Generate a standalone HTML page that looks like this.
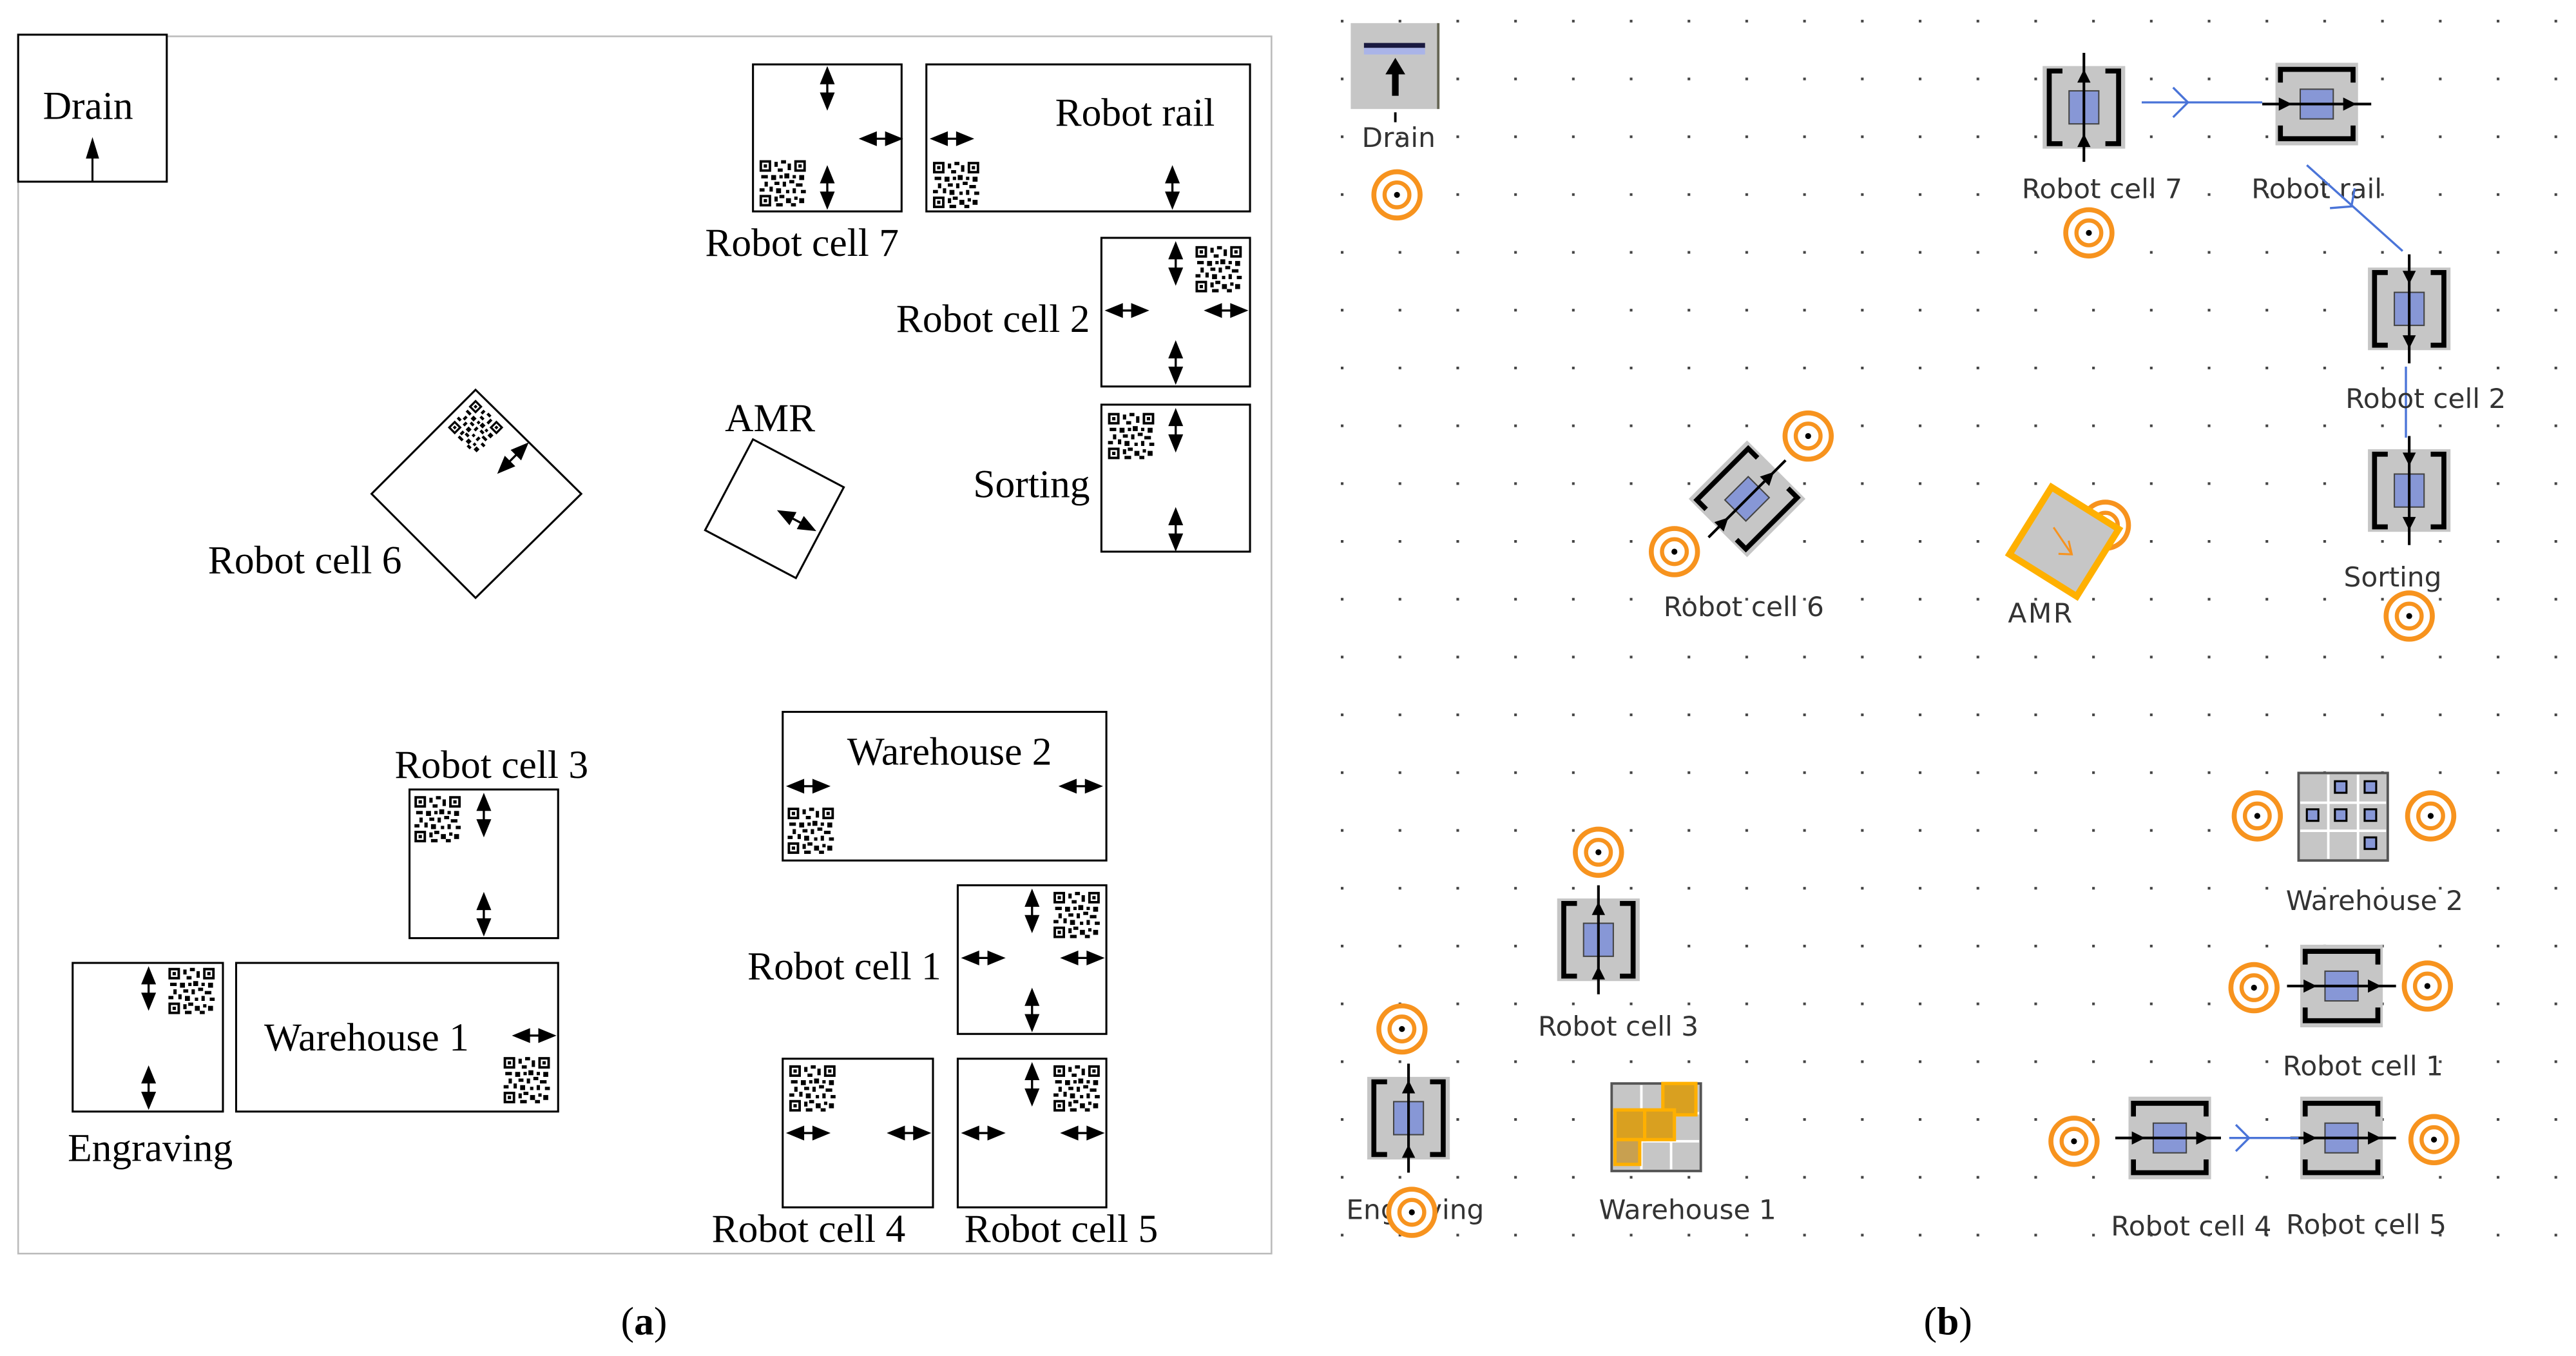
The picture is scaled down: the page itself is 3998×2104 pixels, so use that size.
<!DOCTYPE html>
<html><head><meta charset="utf-8"><style>
html,body{margin:0;padding:0;background:#fff;}
svg{display:block;}
.s{font-family:"Liberation Serif",serif;font-size:24px;fill:#000;}
.b{font-family:"DejaVu Sans","Liberation Sans",sans-serif;font-size:16.5px;fill:#333;text-anchor:middle;}
</style></head><body>
<svg width="3998" height="2104" viewBox="0 0 1560 821" preserveAspectRatio="none" xmlns="http://www.w3.org/2000/svg">
<defs>
<g id="dv"><line x1="0" y1="2" x2="0" y2="25" stroke="#000" stroke-width="1.3"/><polygon points="0,0 -4.5,11 4.5,11" fill="#000"/><polygon points="0,27 -4.5,16 4.5,16" fill="#000"/></g>
<g id="dh"><use href="#dv" transform="rotate(-90)"/></g>
<g id="qr" fill="#000">
<rect x="0" y="0" width="7" height="7"/><rect x="1.5" y="1.5" width="4" height="4" fill="#fff"/><rect x="2.5" y="2.5" width="2" height="2"/>
<rect x="21" y="0" width="7" height="7"/><rect x="22.5" y="1.5" width="4" height="4" fill="#fff"/><rect x="23.5" y="2.5" width="2" height="2"/>
<rect x="0" y="21" width="7" height="7"/><rect x="1.5" y="22.5" width="4" height="4" fill="#fff"/><rect x="2.5" y="23.5" width="2" height="2"/>
<rect x="9" y="1" width="2" height="3"/><rect x="13" y="0" width="3" height="2"/><rect x="17" y="2" width="2" height="4"/><rect x="11" y="5" width="3" height="2"/>
<rect x="1" y="9" width="4" height="2"/><rect x="7" y="9" width="3" height="3"/><rect x="12" y="9" width="2" height="2"/><rect x="15" y="8" width="3" height="3"/><rect x="20" y="9" width="2" height="2"/><rect x="24" y="9" width="3" height="3"/>
<rect x="3" y="13" width="2" height="3"/><rect x="9" y="13" width="3" height="2"/><rect x="14" y="13" width="2" height="3"/><rect x="18" y="12" width="3" height="2"/><rect x="22" y="14" width="4" height="2"/>
<rect x="0" y="17" width="3" height="2"/><rect x="6" y="16" width="2" height="3"/><rect x="10" y="17" width="3" height="3"/><rect x="16" y="18" width="2" height="2"/><rect x="20" y="17" width="2" height="3"/><rect x="25" y="18" width="3" height="2"/>
<rect x="9" y="22" width="2" height="3"/><rect x="12" y="21" width="3" height="2"/><rect x="16" y="23" width="3" height="3"/><rect x="21" y="22" width="2" height="2"/><rect x="24" y="23" width="3" height="3"/><rect x="10" y="26" width="4" height="2"/><rect x="19" y="26" width="3" height="2"/>
</g>
<g id="tg"><circle r="14" fill="#fff" stroke="#f7931e" stroke-width="3"/><circle r="7.5" fill="none" stroke="#f7931e" stroke-width="2.5"/><circle r="1.8" fill="#000"/></g>
<g id="cv">
<rect x="2" y="4" width="50" height="50" fill="#c6c6c6"/>
<path d="M14 7 H6 V51 H14 M40 7 H48 V51 H40" fill="none" stroke="#000" stroke-width="3"/>
<rect x="18" y="19" width="18" height="20" fill="#8797d6" stroke="#444" stroke-width="0.8"/>
<line x1="27" y1="-4" x2="27" y2="62" stroke="#000" stroke-width="1.6"/>
<polygon points="27,14 23,6 31,6" fill="#000"/><polygon points="27,53 23,45 31,45" fill="#000"/>
</g>
<g id="cvu">
<rect x="2" y="4" width="50" height="50" fill="#c6c6c6"/>
<path d="M14 7 H6 V51 H14 M40 7 H48 V51 H40" fill="none" stroke="#000" stroke-width="3"/>
<rect x="18" y="19" width="18" height="20" fill="#8797d6" stroke="#444" stroke-width="0.8"/>
<line x1="27" y1="-4" x2="27" y2="62" stroke="#000" stroke-width="1.6"/>
<polygon points="27,6 23,14 31,14" fill="#000"/><polygon points="27,45 23,53 31,53" fill="#000"/>
</g>
<pattern id="dots" x="812" y="12" width="35" height="35" patternUnits="userSpaceOnUse"><rect x="0" y="0" width="1.6" height="1.6" fill="#444"/></pattern>
</defs>

<!-- Panel a -->
<rect x="11" y="22" width="759" height="737" fill="none" stroke="#bbb" stroke-width="1"/>
<rect x="11" y="21" width="90" height="89" fill="#fff" stroke="#000" stroke-width="1.2"/>
<text class="s" x="26" y="72">Drain</text>
<line x1="56" y1="110" x2="56" y2="90" stroke="#000" stroke-width="1.2"/><polygon points="56,83 52,96 60,96" fill="#000"/>

<rect x="456" y="39" width="90" height="89" fill="none" stroke="#000" stroke-width="1.2"/>
<use href="#dv" x="501" y="40"/><use href="#dv" x="501" y="100"/><use href="#dh" x="520" y="84"/><use href="#qr" x="460" y="97"/>
<text class="s" x="427" y="155">Robot cell 7</text>
<rect x="561" y="39" width="196" height="89" fill="none" stroke="#000" stroke-width="1.2"/>
<text class="s" x="639" y="76">Robot rail</text>
<use href="#dh" x="563" y="84"/><use href="#qr" x="565" y="98"/><use href="#dv" x="710" y="100"/>

<rect x="667" y="144" width="90" height="90" fill="none" stroke="#000" stroke-width="1.2"/>
<use href="#dv" x="712" y="146"/><use href="#dv" x="712" y="206"/><use href="#dh" x="669" y="188"/><use href="#dh" x="729" y="188"/><use href="#qr" x="724" y="149"/>
<text class="s" x="660" y="201" text-anchor="end">Robot cell 2</text>

<rect x="667" y="245" width="90" height="89" fill="none" stroke="#000" stroke-width="1.2"/>
<use href="#qr" x="671" y="250"/><use href="#dv" x="712" y="247"/><use href="#dv" x="712" y="307"/>
<text class="s" x="660" y="301" text-anchor="end">Sorting</text>

<polygon points="288,236 352,299 288,362 225,299" fill="none" stroke="#000" stroke-width="1.2"/>
<g transform="translate(288,242) rotate(45)"><use href="#qr" transform="scale(0.85)"/></g>
<g transform="translate(311,277) rotate(45)"><use href="#dv" y="-13"/></g>
<text class="s" x="126" y="347">Robot cell 6</text>

<polygon points="456,266 511,295 482,350 427,321" fill="none" stroke="#000" stroke-width="1.2"/>
<g transform="translate(482,315) rotate(-62)"><use href="#dv" y="-13"/></g>
<text class="s" x="439" y="261">AMR</text>

<rect x="474" y="431" width="196" height="90" fill="none" stroke="#000" stroke-width="1.2"/>
<text class="s" x="513" y="463">Warehouse 2</text>
<use href="#dh" x="476" y="476"/><use href="#dh" x="641" y="476"/><use href="#qr" x="477" y="489"/>

<rect x="248" y="478" width="90" height="90" fill="none" stroke="#000" stroke-width="1.2"/>
<text class="s" x="239" y="471">Robot cell 3</text>
<use href="#qr" x="251" y="482"/><use href="#dv" x="293" y="480"/><use href="#dv" x="293" y="540"/>

<rect x="580" y="536" width="90" height="90" fill="none" stroke="#000" stroke-width="1.2"/>
<use href="#dv" x="625" y="538"/><use href="#dv" x="625" y="598"/><use href="#dh" x="582" y="580"/><use href="#dh" x="642" y="580"/><use href="#qr" x="638" y="540"/>
<text class="s" x="570" y="593" text-anchor="end">Robot cell 1</text>

<rect x="44" y="583" width="91" height="90" fill="none" stroke="#000" stroke-width="1.2"/>
<use href="#dv" x="90" y="585"/><use href="#dv" x="90" y="645"/><use href="#qr" x="102" y="586"/>
<text class="s" x="41" y="703">Engraving</text>

<rect x="143" y="583" width="195" height="90" fill="none" stroke="#000" stroke-width="1.2"/>
<text class="s" x="160" y="636">Warehouse 1</text>
<use href="#dh" x="310" y="627"/><use href="#qr" x="305" y="640"/>

<rect x="474" y="641" width="91" height="90" fill="none" stroke="#000" stroke-width="1.2"/>
<use href="#qr" x="478" y="645"/><use href="#dh" x="476" y="686"/><use href="#dh" x="537" y="686"/>
<text class="s" x="431" y="752">Robot cell 4</text>
<rect x="580" y="641" width="90" height="90" fill="none" stroke="#000" stroke-width="1.2"/>
<use href="#dv" x="625" y="643"/><use href="#qr" x="638" y="645"/><use href="#dh" x="582" y="686"/><use href="#dh" x="642" y="686"/>
<text class="s" x="584" y="752">Robot cell 5</text>

<text class="s" x="376" y="808">(<tspan font-weight="bold">a</tspan>)</text>
<text class="s" x="1165" y="808">(<tspan font-weight="bold">b</tspan>)</text>

<!-- Panel b -->
<rect x="805" y="0" width="752" height="765" fill="url(#dots)"/>
<rect x="818" y="14" width="53" height="52" fill="#c6c6c6"/>
<line x1="871" y1="14" x2="871" y2="66" stroke="#665" stroke-width="1.5"/>
<rect x="826" y="26" width="37" height="3" fill="#1a1a40"/><rect x="826" y="29" width="37" height="4" fill="#aab4e8"/>
<polygon points="845,35 839,45 851,45" fill="#000"/><rect x="843" y="44" width="4" height="14" fill="#000"/>
<line x1="845" y1="68" x2="845" y2="74" stroke="#000" stroke-width="1.5"/>
<text class="b" x="847" y="89">Drain</text>
<use href="#tg" x="846" y="118"/>

<use href="#cvu" x="1235" y="36"/>
<text class="b" x="1273" y="120">Robot cell 7</text>
<use href="#tg" x="1265" y="141"/>
<g transform="translate(1374,90) rotate(-90)"><use href="#cv"/></g>
<text class="b" x="1403" y="120">Robot rail</text>
<line x1="1297" y1="62" x2="1370" y2="62" stroke="#4a74d8" stroke-width="1.3"/>
<polyline points="1316,53 1325,62 1316,71" fill="none" stroke="#4a74d8" stroke-width="1.3"/>
<line x1="1397" y1="100" x2="1455" y2="152" stroke="#4a74d8" stroke-width="1.3"/>
<polyline points="1411,126 1424,125 1426,114" fill="none" stroke="#4a74d8" stroke-width="1.3"/>

<use href="#cv" x="1432" y="158"/>
<line x1="1457" y1="222" x2="1457" y2="265" stroke="#4a74d8" stroke-width="1.3"/>
<text class="b" x="1469" y="247">Robot cell 2</text>
<use href="#cv" x="1432" y="268"/>
<text class="b" x="1449" y="355">Sorting</text>
<use href="#tg" x="1459" y="373"/>

<g transform="translate(1058,302) rotate(45) translate(-27,-29)"><use href="#cvu"/></g>
<use href="#tg" x="1095" y="264"/><use href="#tg" x="1014" y="334"/>
<text class="b" x="1056" y="373">Robot cell 6</text>

<use href="#tg" x="1275" y="318"/>
<g transform="translate(1250,328) rotate(32)"><rect x="-24" y="-24" width="48" height="48" fill="#c6c6c6" stroke="#ffb000" stroke-width="4"/>
<line x1="-10" y1="-4" x2="8" y2="4" stroke="#f7931e" stroke-width="1.2"/><polyline points="2,-2 8,4 1,8" fill="none" stroke="#f7931e" stroke-width="1.2"/></g>
<text class="b" x="1236" y="377" letter-spacing="1">AMR</text>

<rect x="1392" y="468" width="54" height="53" fill="#c6c6c6" stroke="#555" stroke-width="1.5"/>
<path d="M1393 486 H1445 M1393 503 H1445 M1410 469 V520 M1428 469 V520" stroke="#fff" stroke-width="1.5"/>
<g fill="#8797d6" stroke="#000" stroke-width="1.2">
<rect x="1414" y="473" width="7" height="7"/><rect x="1432" y="473" width="7" height="7"/>
<rect x="1397" y="490" width="7" height="7"/><rect x="1414" y="490" width="7" height="7"/><rect x="1432" y="490" width="7" height="7"/>
<rect x="1432" y="507" width="7" height="7"/></g>
<use href="#tg" x="1367" y="494"/><use href="#tg" x="1472" y="494"/>
<text class="b" x="1438" y="551">Warehouse 2</text>

<g transform="translate(1389,624) rotate(-90)"><use href="#cv"/></g>
<use href="#tg" x="1365" y="598"/><use href="#tg" x="1470" y="597"/>
<text class="b" x="1431" y="651">Robot cell 1</text>

<g transform="translate(1285,716) rotate(-90)"><use href="#cv"/></g>
<g transform="translate(1389,716) rotate(-90)"><use href="#cv"/></g>
<rect x="1345" y="680" width="42" height="20" fill="#fff"/>
<line x1="1350" y1="689" x2="1392" y2="689" stroke="#4a74d8" stroke-width="1.3"/>
<polyline points="1354,681 1362,689 1354,697" fill="none" stroke="#4a74d8" stroke-width="1.3"/>
<use href="#tg" x="1256" y="691"/><use href="#tg" x="1474" y="690"/>
<text class="b" x="1327" y="748">Robot cell 4</text>
<text class="b" x="1433" y="747">Robot cell 5</text>

<use href="#cvu" x="941" y="540"/>
<use href="#tg" x="968" y="516"/>
<text class="b" x="980" y="627">Robot cell 3</text>

<use href="#cvu" x="826" y="648"/>
<use href="#tg" x="849" y="623"/>
<text class="b" x="857" y="738">Engraving</text>
<use href="#tg" x="855" y="734"/>

<rect x="976" y="656" width="54" height="53" fill="#c6c6c6" stroke="#555" stroke-width="1.5"/>
<path d="M977 674 H1029 M977 691 H1029 M994 657 V708 M1012 657 V708" stroke="#fff" stroke-width="1.5"/>
<g fill="#d9a020" stroke="#ffb000" stroke-width="2">
<rect x="1007" y="656" width="20" height="19"/><rect x="978" y="672" width="18" height="18"/><rect x="996" y="672" width="18" height="18"/><rect x="978" y="690" width="15" height="15" fill="#c8a050"/></g>
<text class="b" x="1022" y="738">Warehouse 1</text>
</svg>
</body></html>
